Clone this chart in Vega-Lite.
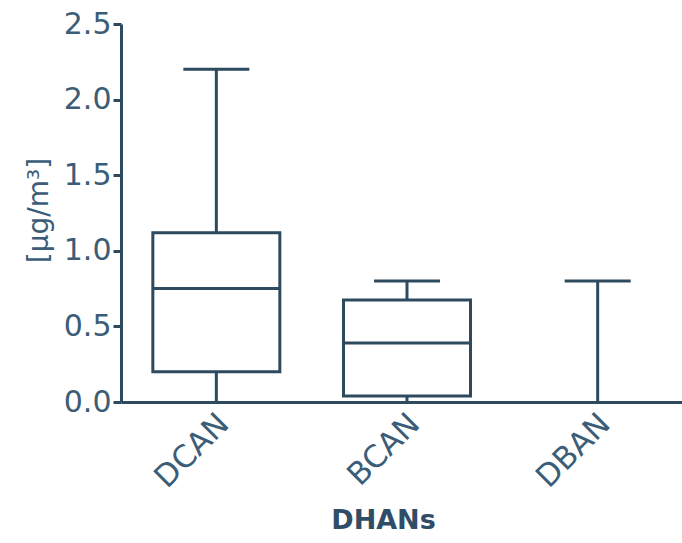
{
  "$schema": "https://vega.github.io/schema/vega-lite/v6.json",
  "width": 572,
  "height": 378,
  "autosize": {"type": "none"},
  "padding": {"left": 121, "top": 24, "right": 0, "bottom": 141},
  "background": "white",
  "config": {"view": {"stroke": null}, "font": "DejaVu Sans"},
  "data": {"values": [
    {"group": "DCAN", "min": 0, "q1": 0.2, "median": 0.75, "q3": 1.12, "max": 2.2},
    {"group": "BCAN", "min": 0, "q1": 0.04, "median": 0.39, "q3": 0.675, "max": 0.8},
    {"group": "DBAN", "min": 0, "q1": 0, "median": 0, "q3": 0, "max": 0.8}
  ]},
  "encoding": {
    "x": {
      "field": "group", "type": "nominal", "sort": ["DCAN", "BCAN", "DBAN"],
      "scale": {"paddingInner": 0, "paddingOuter": 0},
      "axis": {
        "title": "DHANs", "titleFontSize": 27, "titleFontWeight": "bold", "titleColor": "#2f4d66",
        "titleX": 262, "titleY": 118, "titleBaseline": "middle", "titleAlign": "center",
        "labelAngle": -45, "labelAlign": "right", "labelBaseline": "middle", "labelFontSize": 31,
        "labelColor": "#3b5d78", "labelPadding": 17, "labelOffset": 8,
        "ticks": false, "domainColor": "#2d4a5f", "domainWidth": 3
      }
    }
  },
  "layer": [
    {
      "mark": {"type": "rule", "color": "#2d4a5f", "strokeWidth": 3},
      "encoding": {
        "y": {"field": "min", "type": "quantitative", "scale": {"domain": [0, 2.5], "nice": false},
          "axis": {
            "title": "[µg/m³]", "titleFontSize": 28, "titleFontWeight": "normal", "titleColor": "#3b5d78",
            "titleAngle": -90, "titleX": -82, "titleY": 186, "titleAlign": "center", "titleBaseline": "middle",
            "values": [0, 0.5, 1, 1.5, 2, 2.5], "format": ".1f",
            "labelFontSize": 30, "labelColor": "#3b5d78", "labelPadding": 2,
            "tickSize": 8, "tickWidth": 3, "tickColor": "#2d4a5f",
            "domainColor": "#2d4a5f", "domainWidth": 3, "grid": false
          }},
        "y2": {"field": "max"}
      }
    },
    {
      "transform": [{"filter": "datum.q3 > 0"}],
      "mark": {"type": "bar", "fill": "white", "stroke": "#2d4a5f", "strokeWidth": 3, "size": 127},
      "encoding": {
        "y": {"field": "q1", "type": "quantitative"},
        "y2": {"field": "q3"}
      }
    },
    {
      "transform": [{"filter": "datum.q3 > 0"}],
      "mark": {"type": "tick", "color": "#2d4a5f", "thickness": 3, "size": 127, "opacity": 1},
      "encoding": {"y": {"field": "median", "type": "quantitative"}}
    },
    {
      "mark": {"type": "tick", "color": "#2d4a5f", "thickness": 3, "size": 66, "opacity": 1},
      "encoding": {"y": {"field": "max", "type": "quantitative"}}
    }
  ]
}
